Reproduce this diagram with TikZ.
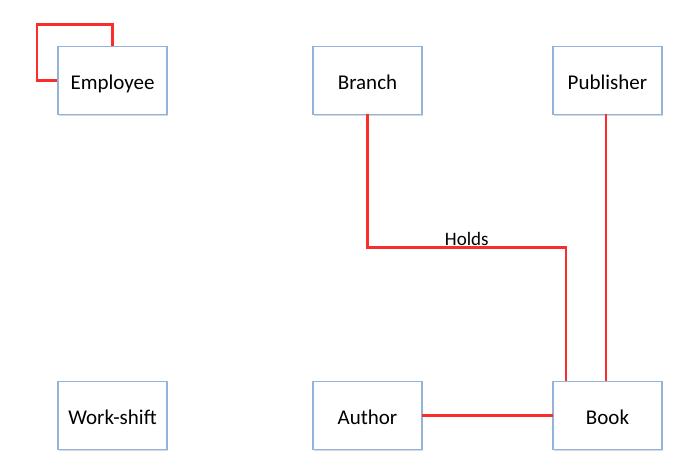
\documentclass[tikz,border=0pt]{standalone}
\usepackage{fontspec}
\setmainfont{Carlito}
\usepackage{tikz}
\usetikzlibrary{positioning,shadows}
\definecolor{boxline}{RGB}{149,179,215}
\definecolor{relred}{RGB}{250,45,45}
\tikzset{
	entity/.style={
		draw=boxline, line width=1.6pt, fill=white,
		rectangle, minimum width=109pt, minimum height=68pt,
		inner sep=0pt, outer sep=0pt, text=black,
		text height=18.5pt, text depth=0pt,
		font=\fontsize{21}{25}\selectfont,
		drop shadow={shadow xshift=1.2pt, shadow yshift=-1.2pt, opacity=0.3}
	},
	rel/.style={draw=relred, line width=2.4pt}
}
\begin{document}
\begin{tikzpicture}
	\useasboundingbox (0,0) rectangle (698pt,473pt);
	% relationships first, boxes go on top
	\coordinate (e) at (112.5pt,392.5pt);
	\coordinate (ew) at (58pt,392.5pt);
	\draw[rel] (e) ++(0,34pt) -- ++(0,22pt) -| ([xshift=-21pt]ew) -- (ew);
	\node[entity] (employee) at (e) {Employee};
	\node[entity] (branch) [right=146pt of employee] {Branch};
	\node[entity] (publisher) [right=131pt of branch] {Publisher};
	\node[entity] (workshift) [below=267pt of employee] {Work-shift};
	\node[entity] (author) [below=267pt of branch] {Author};
	\node[entity] (book) [below=267pt of publisher] {Book};
	\draw[rel] (branch.south) -- ++(0,-133pt) -| node[pos=0.25, above, inner sep=1pt, font=\fontsize{19}{22}\selectfont] (holds) {Holds} ([xshift=-41.5pt]book.north);
	\draw[rel] ([xshift=-1.5pt]publisher.south) -- ([xshift=-1.5pt]book.north);
	\draw[rel] (author) -- (book);
\end{tikzpicture}
\end{document}
